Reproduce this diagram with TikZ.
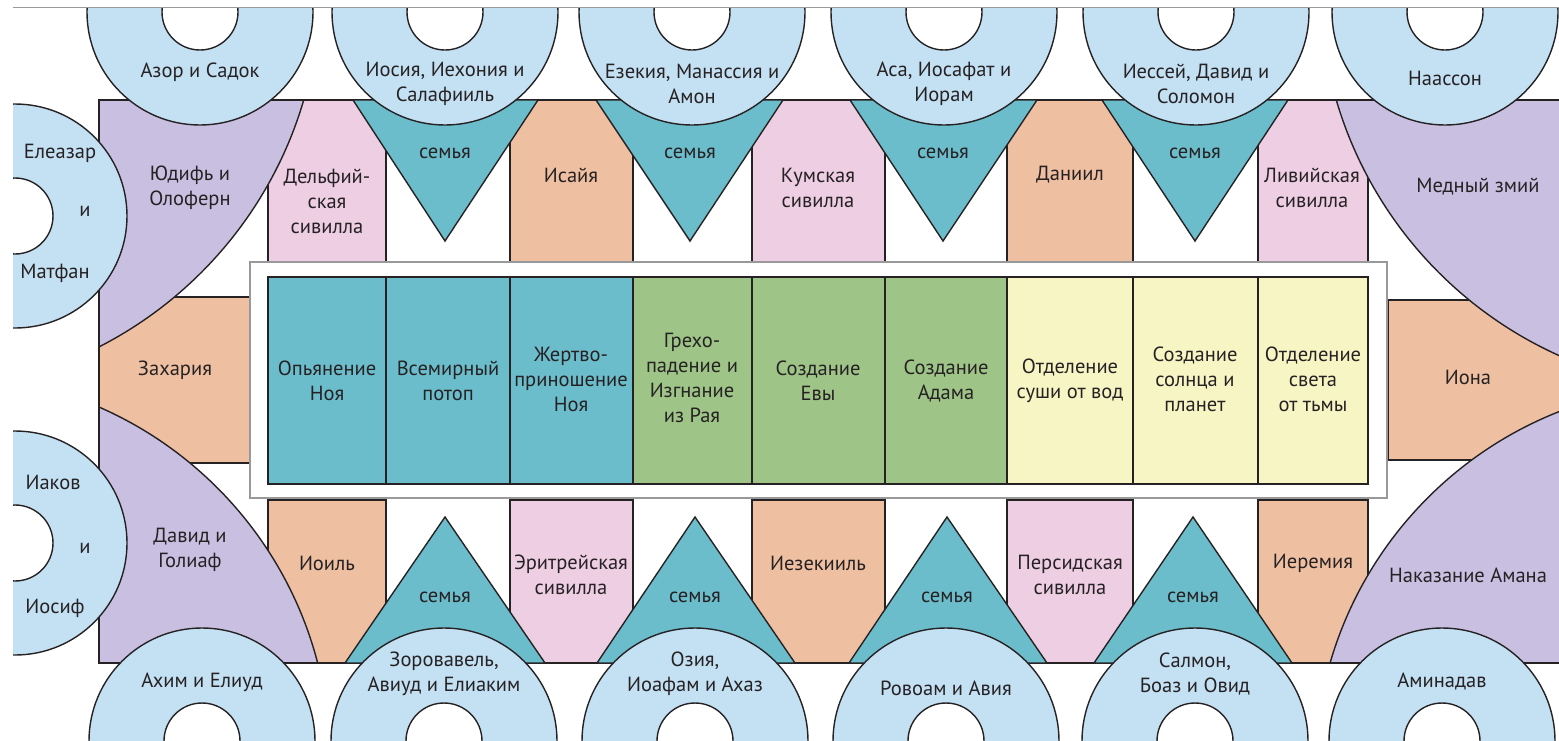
\documentclass[tikz,border=0pt]{standalone}
\usepackage{fontspec}
\setmainfont{PT Sans}
\usepackage{tikz}
\definecolor{nebo}{RGB}{196,224,243}
\definecolor{lilac}{RGB}{201,192,225}
\definecolor{rosa}{RGB}{237,206,227}
\definecolor{peach}{RGB}{239,191,161}
\definecolor{sea}{RGB}{108,189,203}
\definecolor{grass}{RGB}{158,196,135}
\definecolor{cream}{RGB}{248,245,197}
\definecolor{ink}{RGB}{38,34,36}

\begin{document}
\begin{tikzpicture}[x=1pt,y=-1pt]
                    \tikzstyle{every node}+=[inner sep=0pt, align=center, text=ink, font=\fontsize{20.5}{25}\selectfont]
                    \tikzstyle{edge}=[draw=ink, line width=1.4pt]
                    \tikzstyle{sibyl}=[edge, fill=rosa]
                    \tikzstyle{prophet}=[edge, fill=peach]
                    \tikzstyle{family}=[edge, fill=sea]
                    \tikzstyle{ancestor}=[edge, fill=nebo]
                    \tikzstyle{hole}=[edge, fill=white]
                    \tikzstyle{spandrel}=[edge, fill=lilac]
                    \fill [white] (0,0) rectangle (1559,740);
                    \useasboundingbox (0,0) rectangle (1559,740);
                    \clip (13,7) rectangle (1559,740);
                    \draw [sibyl] (268,100) rectangle (386,262);
                    \draw [prophet] (510,100) rectangle (633,262);
                    \draw [sibyl] (752,100) rectangle (885,262);
                    \draw [prophet] (1007,100) rectangle (1133,262);
                    \draw [sibyl] (1258,100) rectangle (1368,262);
                    \draw [prophet] (268,500) rectangle (386,663);
                    \draw [sibyl] (510,500) rectangle (633,663);
                    \draw [prophet] (752,500) rectangle (885,663);
                    \draw [sibyl] (1007,500) rectangle (1133,663);
                    \draw [prophet] (1258,500) rectangle (1368,663);
                    \draw [prophet] (99,297) rectangle (250,463);
                    \draw [prophet] (1388,300) rectangle (1575,460);
                    \begin{scope}
                    \clip (99,100) rectangle (1575,663);
                    \draw [spandrel] (-85,-14) circle [radius=405pt];
                    \draw [spandrel] (1725,-14) circle [radius=405pt];
                    \draw [spandrel] (-55,760) circle [radius=385pt];
                    \draw [spandrel] (1700,770) circle [radius=385pt];
                    \end{scope}
                    \draw [edge] (1575,100) -- (99,100) -- (99,663) -- (1575,663);
                    \draw [family] (353,100) -- (538,100) -- (445,241) -- cycle;
                    \draw [family] (596,100) -- (783,100) -- (690,241) -- cycle;
                    \draw [family] (850,100) -- (1037,100) -- (943,241) -- cycle;
                    \draw [family] (1102,100) -- (1288,100) -- (1195,241) -- cycle;
                    \draw [family] (345,663) -- (545,663) -- (445,517) -- cycle;
                    \draw [family] (597,663) -- (795,663) -- (695,517) -- cycle;
                    \draw [family] (849,663) -- (1047,663) -- (947,517) -- cycle;
                    \draw [family] (1094,663) -- (1292,663) -- (1193,517) -- cycle;
                    \draw [ancestor] (200,12) circle [radius=113pt];
                    \draw [hole] (200,12) circle [radius=38pt];
                    \draw [ancestor] (445,12) circle [radius=113pt];
                    \draw [hole] (445,12) circle [radius=38pt];
                    \draw [ancestor] (692,12) circle [radius=113pt];
                    \draw [hole] (692,12) circle [radius=38pt];
                    \draw [ancestor] (944,12) circle [radius=113pt];
                    \draw [hole] (944,12) circle [radius=38pt];
                    \draw [ancestor] (1196,12) circle [radius=113pt];
                    \draw [hole] (1196,12) circle [radius=38pt];
                    \draw [ancestor] (1445,12) circle [radius=113pt];
                    \draw [hole] (1445,12) circle [radius=38pt];
                    \draw [ancestor] (202,741) circle [radius=113pt];
                    \draw [hole] (202,741) circle [radius=38pt];
                    \draw [ancestor] (444,741) circle [radius=113pt];
                    \draw [hole] (444,741) circle [radius=38pt];
                    \draw [ancestor] (695,741) circle [radius=113pt];
                    \draw [hole] (695,741) circle [radius=38pt];
                    \draw [ancestor] (946,741) circle [radius=113pt];
                    \draw [hole] (946,741) circle [radius=38pt];
                    \draw [ancestor] (1195,741) circle [radius=113pt];
                    \draw [hole] (1195,741) circle [radius=38pt];
                    \draw [ancestor] (1442,741) circle [radius=113pt];
                    \draw [hole] (1442,741) circle [radius=38pt];
                    \draw [ancestor] (15,216) circle [radius=112pt];
                    \draw [hole] (15,216) circle [radius=38pt];
                    \draw [ancestor] (15,543) circle [radius=112pt];
                    \draw [hole] (15,543) circle [radius=38pt];
                    \draw [black!40, line width=1pt] (13,7) -- (1559,7);
                    \draw [black!40, line width=1.2pt, fill=white] (250,262) rectangle (1387,498);
                    \fill [sea] (268,277) rectangle (633,484);
                    \fill [grass] (633,277) rectangle (1007,484);
                    \fill [cream] (1007,277) rectangle (1368,484);
                    \draw [edge] (386,277) -- (386,484);
                    \draw [edge] (510,277) -- (510,484);
                    \draw [edge] (633,277) -- (633,484);
                    \draw [edge] (752,277) -- (752,484);
                    \draw [edge] (885,277) -- (885,484);
                    \draw [edge] (1007,277) -- (1007,484);
                    \draw [edge] (1133,277) -- (1133,484);
                    \draw [edge] (1258,277) -- (1258,484);
                    \draw [draw=ink, line width=2.6pt] (268,277) rectangle (1368,484);
                    \draw (327,381) node (opyanenie) {Опьянение\\Ноя};
                    \draw (448,381) node (potop) {Всемирный\\потоп};
                    \draw (571,379) node (zhertva) {Жертво-\\приношение\\Ноя};
                    \draw (692,378) node (grehopadenie) {Грехо-\\падение и\\Изгнание\\из Рая};
                    \draw (818,381) node (eva) {Создание\\Евы};
                    \draw (946,381) node (adam) {Создание\\Адама};
                    \draw (1070,381) node (susha) {Отделение\\суши от вод};
                    \draw (1195,379) node (solnce) {Создание\\солнца и\\планет};
                    \draw (1313,379) node (svet) {Отделение\\света\\от тьмы};
                    \draw (200,72) node (azor) {Азор и Садок};
                    \draw (445,84) node (iosia) {Иосия, Иехония и\\Салафииль};
                    \draw (692,84) node (ezekia) {Езекия, Манассия и\\Амон};
                    \draw (944,84) node (asa) {Аса, Иосафат и\\Иорам};
                    \draw (1196,84) node (iessei) {Иессей, Давид и\\Соломон};
                    \draw (1445,78) node (naasson) {Наассон};
                    \draw (202,682) node (ahim) {Ахим и Елиуд};
                    \draw (444,674) node (zorovavel) {Зоровавель,\\Авиуд и Елиаким};
                    \draw (695,674) node (ozia) {Озия,\\Иоафам и Ахаз};
                    \draw (946,688) node (rovoam) {Ровоам и Авия};
                    \draw (1195,674) node (salmon) {Салмон,\\Боаз и Овид};
                    \draw (1442,682) node (aminadav) {Аминадав};
                    \draw (60,153) node (eleazar) {Елеазар};
                    \draw (85,211) node (i1) {и};
                    \draw (55,273) node (matfan) {Матфан};
                    \draw (53,482) node (iakov) {Иаков};
                    \draw (85,548) node (i2) {и};
                    \draw (55,608) node (iosif) {Иосиф};
                    \draw (445,153) node (semya1) {семья};
                    \draw (690,153) node (semya2) {семья};
                    \draw (943,153) node (semya3) {семья};
                    \draw (1195,153) node (semya4) {семья};
                    \draw (445,597) node (semya5) {семья};
                    \draw (695,597) node (semya6) {семья};
                    \draw (947,597) node (semya7) {семья};
                    \draw (1193,597) node (semya8) {семья};
                    \draw (190,188) node (yudif) {Юдифь и\\Олоферн};
                    \draw (190,550) node (david) {Давид и\\Голиаф};
                    \draw (1478,187) node (zmiy) {Медный змий};
                    \draw (1468,575) node (aman) {Наказание Амана};
                    \draw (327,201) node (delfi) {Дельфий-\\ская\\сивилла};
                    \draw (571,175) node (isaia) {Исайя};
                    \draw (818,188) node (kuma) {Кумская\\сивилла};
                    \draw (1070,175) node (daniil) {Даниил};
                    \draw (1312,188) node (livia) {Ливийская\\сивилла};
                    \draw (327,563) node (ioil) {Иоиль};
                    \draw (571,575) node (eritrea) {Эритрейская\\сивилла};
                    \draw (818,563) node (iezekiil) {Иезекииль};
                    \draw (1070,575) node (persia) {Персидская\\сивилла};
                    \draw (1313,563) node (ieremia) {Иеремия};
                    \draw (175,370) node (zaharia) {Захария};
                    \draw (1468,377) node (iona) {Иона};
\end{tikzpicture}
\end{document}
